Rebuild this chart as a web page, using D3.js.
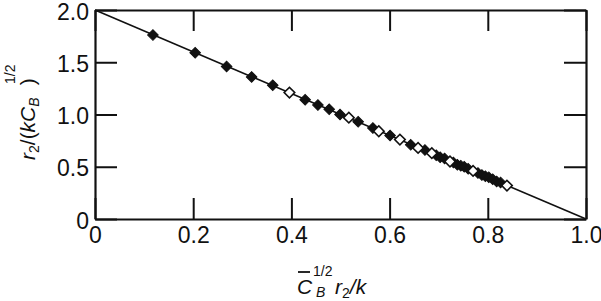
<!DOCTYPE html>
<html>
<head>
<meta charset="utf-8">
<script src="https://cdn.jsdelivr.net/npm/d3@7"></script>
<style>
  body { margin: 0; background: #fff; }
  text { font-family: "Liberation Sans", Arial, sans-serif; fill: #111; }
</style>
</head>
<body>
<svg id="chart" width="601" height="301"></svg>
<script>
var svg = d3.select("#chart"),
  width = +svg.attr("width"),
  height = +svg.attr("height");

// data
var filledX = [0.118, 0.204, 0.268, 0.319, 0.362, 0.428, 0.454, 0.477, 0.499, 0.536,
  0.566, 0.601, 0.643, 0.672, 0.695, 0.703, 0.712, 0.730, 0.738, 0.745,
  0.752, 0.760, 0.780, 0.788, 0.795, 0.802, 0.810, 0.818, 0.826]
var filledY = [1.76, 1.59, 1.46, 1.36, 1.28, 1.14, 1.09, 1.05, 1.00, 0.93,
  0.87, 0.80, 0.71, 0.66, 0.61, 0.59, 0.58, 0.54, 0.52, 0.51,
  0.50, 0.48, 0.44, 0.42, 0.41, 0.40, 0.38, 0.36, 0.35]
var openX = [0.396, 0.517, 0.578, 0.621, 0.658, 0.686, 0.723, 0.770, 0.839]
var openY = [1.21, 0.97, 0.84, 0.76, 0.68, 0.63, 0.55, 0.46, 0.32]
var fitX = [0, 1]
var fitY = [2, 0]

var xTicks = [0, 0.2, 0.4, 0.6, 0.8, 1.0]
var xTickLabels = ["0", "0.2", "0.4", "0.6", "0.8", "1.0"]
var yTicks = [0, 0.5, 1.0, 1.5, 2.0]
var yTickLabels = ["0", "0.5", "1.0", "1.5", "2.0"]

const margin = { top: 10, right: 15, bottom: 82, left: 95 };
const x = d3.scaleLinear().domain([0, 1]).range([margin.left, width - margin.right]);
const y = d3.scaleLinear().domain([0, 2]).range([height - margin.bottom, margin.top]);

// axes, ticks point inward on all four sides
function styleAxis(g) {
  g.selectAll(".domain").attr("stroke", "#111").attr("stroke-width", 2.2);
  g.selectAll(".tick line").attr("stroke", "#111").attr("stroke-width", 2);
  g.selectAll("text").attr("font-size", 23).attr("fill", "#111");
}

svg.append("g")
  .attr("transform", "translate(0," + y(0) + ")")
  .call(d3.axisBottom(x).tickValues(xTicks)
    .tickFormat(function (d, i) { return xTickLabels[i]; })
    .tickSizeInner(-21).tickSizeOuter(0).tickPadding(8))
  .call(styleAxis);

svg.append("g")
  .attr("transform", "translate(0," + y(2) + ")")
  .call(d3.axisTop(x).tickValues(xTicks).tickFormat("")
    .tickSizeInner(-21).tickSizeOuter(0))
  .call(styleAxis);

svg.append("g")
  .attr("transform", "translate(" + x(0) + ",0)")
  .call(d3.axisLeft(y).tickValues(yTicks)
    .tickFormat(function (d, i) { return yTickLabels[i]; })
    .tickSizeInner(-22).tickSizeOuter(0).tickPadding(6))
  .call(styleAxis)
  .selectAll("text").attr("dy", "0.4em");

svg.append("g")
  .attr("transform", "translate(" + x(1) + ",0)")
  .call(d3.axisRight(y).tickValues(yTicks).tickFormat("")
    .tickSizeInner(-22).tickSizeOuter(0))
  .call(styleAxis);

// fitted line
const line = d3.line()
  .x(function (d, i) { return x(d); })
  .y(function (d, i) { return y(fitY[i]); });

svg.append("path")
  .datum(fitX)
  .attr("d", line)
  .attr("fill", "none")
  .attr("stroke", "#111")
  .attr("stroke-width", 1.6);

// diamonds
const diamond = d3.symbol().type(d3.symbolSquare).size(56);

svg.append("g")
  .selectAll("path")
  .data(filledX)
  .join("path")
  .attr("d", diamond)
  .attr("transform", function (d, i) {
    return "translate(" + x(d) + "," + y(filledY[i]) + ") rotate(45)";
  })
  .attr("fill", "#111")
  .attr("stroke", "#111")
  .attr("stroke-width", 1);

svg.append("g")
  .selectAll("path")
  .data(openX)
  .join("path")
  .attr("d", diamond)
  .attr("transform", function (d, i) {
    return "translate(" + x(d) + "," + y(openY[i]) + ") rotate(45)";
  })
  .attr("fill", "#fff")
  .attr("stroke", "#111")
  .attr("stroke-width", 1.6);

// x axis title:  C_B^(-1/2) r2/k
var xt = svg.append("g").attr("transform", "translate(297,294)");
xt.append("text").attr("x", 0).attr("y", 0).attr("font-size", 21)
  .attr("font-style", "italic").text("C");
xt.append("line").attr("x1", 1).attr("x2", 13).attr("y1", -22).attr("y2", -22)
  .attr("stroke", "#111").attr("stroke-width", 1.8);
xt.append("text").attr("x", 16).attr("y", -18).attr("font-size", 14).text("1/2");
xt.append("text").attr("x", 19).attr("y", 3).attr("font-size", 14)
  .attr("font-style", "italic").text("B");
var xr = xt.append("text").attr("x", 38).attr("y", 0).attr("font-size", 21)
  .attr("font-style", "italic");
xr.append("tspan").text("r");
xr.append("tspan").attr("font-size", 14).attr("dy", 4).attr("font-style", "normal").text("2");
xr.append("tspan").attr("dy", -4).text("/k");

// y axis title:  r2/(kC_B^(1/2))
var yt = svg.append("g").attr("transform", "translate(35,160) rotate(-90)");
var ym = yt.append("text").attr("x", 0).attr("y", 0).attr("font-size", 21);
ym.append("tspan").attr("font-style", "italic").text("r");
ym.append("tspan").attr("font-size", 14).attr("dy", 4).text("2");
ym.append("tspan").attr("dy", -4).text("/(");
ym.append("tspan").attr("font-style", "italic").text("kC");
ym.append("tspan").attr("font-size", 14).attr("dy", 4).attr("font-style", "italic").text("B");
ym.append("tspan").attr("dy", -4).attr("dx", 12).text(")");
yt.append("text").attr("x", 76).attr("y", -20).attr("font-size", 14).text("1/2");
</script>
</body>
</html>
